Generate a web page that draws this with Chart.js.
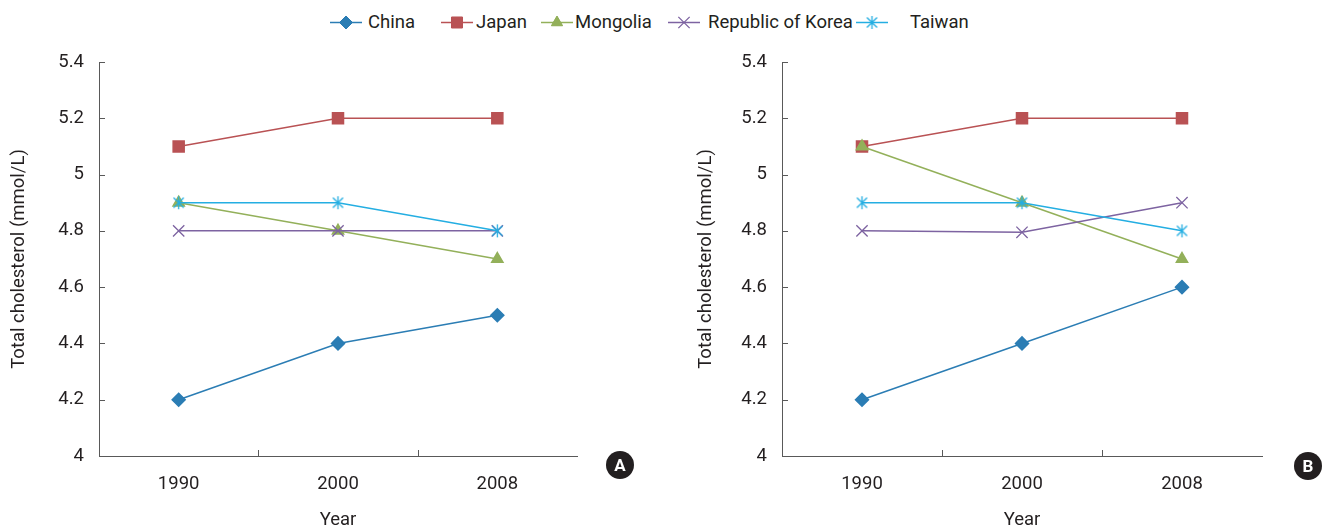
<!DOCTYPE html>
<html>
<head>
<meta charset="utf-8">
<script src="https://cdn.jsdelivr.net/npm/chart.js@4/dist/chart.umd.min.js"></script>
<style>
  html, body { margin: 0; padding: 0; background: #fff; }
  body { width: 1331px; height: 531px; position: relative; overflow: hidden; font-family: Roboto, "Noto Sans", sans-serif; }
  .panel { position: absolute; top: 0; height: 531px; }
  #legend { position: absolute; top: 0; left: 0; width: 1331px; height: 40px; }
  .lg { position: absolute; top: 10px; height: 24px; display: flex; align-items: center; font-size: 18.5px; color: #231f20; white-space: nowrap; }
  .badge { position: absolute; width: 28px; height: 28px; border-radius: 50%; background: #231f20; color: #fff;
           font: bold 17px Roboto, "Noto Sans", sans-serif; display: flex; align-items: center; justify-content: center; }
</style>
</head>
<body>
<div id="legend"></div>
<div class="panel" style="left:0;width:660px;"><canvas id="chartA" width="660" height="531"></canvas></div>
<div class="panel" style="left:687px;width:644px;"><canvas id="chartB" width="644" height="531"></canvas></div>
<div class="badge" style="left:606px;top:451px;">A</div>
<div class="badge" style="left:1294px;top:452px;">B</div>
<script>
// Survey years and countries
const years = ['1990', '2000', '2008'];
const countries = ['China', 'Japan', 'Mongolia', 'Republic of Korea', 'Taiwan'];

// Panel A – mean total cholesterol (mmol/L)
const chinaA    = [4.2, 4.4, 4.5];
const japanA    = [5.1, 5.2, 5.2];
const mongoliaA = [4.9, 4.8, 4.7];
const koreaA    = [4.8, 4.8, 4.8];
const taiwanA   = [4.9, 4.9, 4.8];

// Panel B – mean total cholesterol (mmol/L)
const chinaB    = [4.2, 4.4, 4.6];
const japanB    = [5.1, 5.2, 5.2];
const mongoliaB = [5.1, 4.9, 4.7];
const koreaB    = [4.8, 4.795, 4.9];
const taiwanB   = [4.9, 4.9, 4.8];

// Y axis range
const yMin = 4, yMax = 5.4, yStep = 0.2;

const colors = ['#2b7db4', '#b95254', '#93b05a', '#7d63a1', '#24aee2'];

// Asterisk marker (vertical stroke plus two diagonals)
function makeAsterisk(color, size) {
  const c = document.createElement('canvas');
  c.width = size; c.height = size;
  const ctx = c.getContext('2d');
  const m = size / 2, r = size / 2 - 1;
  ctx.strokeStyle = color; ctx.lineWidth = 1.3;
  ctx.beginPath();
  ctx.moveTo(m, m - r); ctx.lineTo(m, m + r);
  const d = r * 0.78;
  ctx.moveTo(m - d, m - d); ctx.lineTo(m + d, m + d);
  ctx.moveTo(m - d, m + d); ctx.lineTo(m + d, m - d);
  ctx.stroke();
  return c;
}
const asterisk = makeAsterisk(colors[4], 15);

const markers = [
  { pointStyle: 'rectRot', pointRadius: 6.5 },
  { pointStyle: 'rect', pointRadius: 7.8 },
  { pointStyle: 'triangle', pointRadius: 6.5 },
  { pointStyle: 'crossRot', pointRadius: 8, pointBorderWidth: 1.3 },
  { pointStyle: asterisk, pointRadius: 7 }
];

function buildDatasets(series) {
  return series.map((vals, i) => Object.assign({
    label: countries[i],
    data: vals,
    borderColor: colors[i],
    backgroundColor: colors[i],
    pointBackgroundColor: colors[i],
    pointBorderColor: colors[i],
    borderWidth: 1.5,
    order: series.length - 1 - i
  }, markers[i]));
}

// Short tick marks drawn on the inner side of both axes
const innerTicks = {
  id: 'innerTicks',
  afterDraw(chart) {
    const ctx = chart.ctx, x = chart.scales.x, y = chart.scales.y;
    const area = chart.chartArea;
    ctx.save();
    ctx.strokeStyle = '#595959'; ctx.lineWidth = 1;
    ctx.beginPath();
    y.ticks.forEach(t => {
      if (t.value <= yMin + 1e-9) return;
      const py = Math.round(y.getPixelForValue(t.value)) + 0.5;
      ctx.moveTo(area.left, py); ctx.lineTo(area.left + 6, py);
    });
    for (let i = 0; i < x.ticks.length - 1; i++) {
      const px = Math.round((x.getPixelForTick(i) + x.getPixelForTick(i + 1)) / 2) + 0.5;
      ctx.moveTo(px, area.bottom); ctx.lineTo(px, area.bottom - 6);
    }
    ctx.stroke();
    ctx.restore();
  }
};

const tickFont = { family: 'Roboto, "Noto Sans", sans-serif', size: 18.5 };

function makeChart(id, series, yWidth, rightPad) {
  return new Chart(document.getElementById(id), {
    type: 'line',
    data: { labels: years, datasets: buildDatasets(series) },
    options: {
      responsive: false,
      animation: false,
      layout: { padding: { top: 62, right: rightPad, bottom: 0, left: 0 } },
      plugins: { legend: { display: false }, tooltip: { enabled: false } },
      scales: {
        x: {
          offset: true,
          grid: { display: true, drawOnChartArea: false, drawTicks: false, color: '#595959' },
          border: { color: '#595959', width: 1 },
          ticks: { color: '#231f20', font: tickFont, padding: 17, maxRotation: 0 },
          title: { display: true, text: 'Year', color: '#231f20', font: tickFont, padding: { top: 0, bottom: 0 } },
          afterFit(s) { s.height = 75; }
        },
        y: {
          min: yMin, max: yMax,
          grid: { display: true, drawOnChartArea: false, drawTicks: false, color: '#595959' },
          border: { color: '#595959', width: 1 },
          ticks: { stepSize: yStep, color: '#231f20', font: tickFont, padding: 15,
                   callback: v => String(+v.toFixed(1)) },
          title: { display: true, text: 'Total cholesterol (mmol/L)', color: '#231f20', font: tickFont, padding: { top: 8, bottom: 0 } },
          afterFit(s) { s.width = yWidth; }
        }
      }
    },
    plugins: [innerTicks]
  });
}

makeChart('chartA', [chinaA, japanA, mongoliaA, koreaA, taiwanA], 99, 83);
makeChart('chartB', [chinaB, japanB, mongoliaB, koreaB, taiwanB], 95, 69);

// Legend row
const legendX = [330, 441, 541, 668, 856];
const legendGap = [6, 3, 2, 8, 22];
const legend = document.getElementById('legend');
countries.forEach((name, i) => {
  const item = document.createElement('div');
  item.className = 'lg';
  item.style.left = legendX[i] + 'px';
  const c = document.createElement('canvas');
  c.width = 32; c.height = 24;
  c.style.marginRight = legendGap[i] + 'px';
  const ctx = c.getContext('2d');
  ctx.strokeStyle = colors[i]; ctx.lineWidth = 1.5;
  ctx.beginPath(); ctx.moveTo(0, 12.5); ctx.lineTo(32, 12.5); ctx.stroke();
  const m = markers[i];
  ctx.fillStyle = colors[i];
  ctx.lineWidth = m.pointBorderWidth || 1;
  Chart.helpers.drawPoint(ctx, { pointStyle: m.pointStyle, radius: m.pointRadius, borderWidth: ctx.lineWidth, rotation: 0 }, 16, 12.5);
  if (typeof m.pointStyle === 'string' && m.pointStyle !== 'crossRot') ctx.fill();
  const span = document.createElement('span');
  span.textContent = name;
  item.appendChild(c); item.appendChild(span);
  legend.appendChild(item);
});
</script>
</body>
</html>
